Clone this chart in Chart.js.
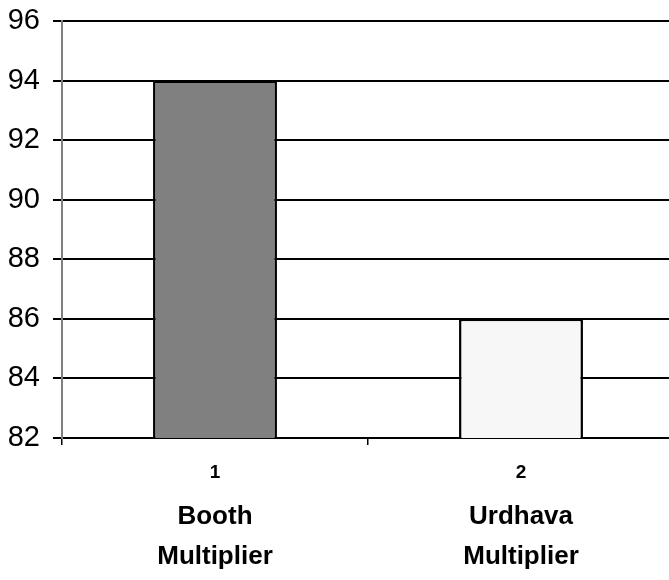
<!DOCTYPE html>
<html>
<head>
<meta charset="utf-8">
<script src="https://cdn.jsdelivr.net/npm/chart.js@4/dist/chart.umd.min.js"></script>
<style>
  html, body { margin: 0; padding: 0; background: #ffffff; overflow: hidden; }
  #wrap { width: 680px; height: 580px; }
</style>
</head>
<body>
<div id="wrap"><canvas id="chart" width="680" height="580"></canvas></div>
<script>
// Category index labels and the multiplier names printed beneath them
const categories = ['1', '2'];
const multiplierNames = [['Booth', 'Multiplier'], ['Urdhava', 'Multiplier']];
const values = [94, 86];
const barColors = ['#808080', '#f7f7f7'];
const yMin = 82, yMax = 96, yStep = 2;

const FONT = "'Liberation Sans', Arial, sans-serif";

new Chart(document.getElementById('chart'), {
  type: 'bar',
  data: {
    labels: categories,
    datasets: [{
      data: values,
      backgroundColor: barColors,
      borderColor: '#000000',
      borderWidth: 2.5,
      barPercentage: 0.81,
      categoryPercentage: 0.5
    }]
  },
  options: {
    responsive: false,
    animation: false,
    devicePixelRatio: 1,
    layout: { padding: { top: 21, right: 6, bottom: 0, left: 0 } },
    plugins: { legend: { display: false }, tooltip: { enabled: false } },
    scales: {
      x: {
        type: 'category',
        offset: true,
        weight: 0,
        afterFit: s => { s.height = 44; },
        grid: { display: true, drawOnChartArea: false, offset: true, color: '#000000', lineWidth: 1.5, tickLength: 7 },
        border: { display: true, color: '#000000', width: 2 },
        ticks: { color: '#000000', padding: 16, font: { family: FONT, size: 19, weight: 'bold' } }
      },
      x2: {
        type: 'category',
        labels: multiplierNames,
        position: 'bottom',
        offset: true,
        weight: 1,
        afterFit: s => { s.height = 98; },
        grid: { display: false, drawTicks: false },
        border: { display: false },
        ticks: { color: '#000000', padding: 15, font: { family: FONT, size: 26, weight: 'bold', lineHeight: 1.54 } }
      },
      y: {
        min: yMin,
        max: yMax,
        afterFit: s => { s.width = 62; s.paddingTop = 0; s.paddingBottom = 0; },
        ticks: { stepSize: yStep, color: '#000000', padding: 13, font: { family: FONT, size: 29 } },
        grid: { color: '#000000', lineWidth: 2, tickLength: 9, tickColor: '#000000' },
        border: { display: true, color: '#808080', width: 2 }
      }
    }
  }
});
</script>
</body>
</html>
